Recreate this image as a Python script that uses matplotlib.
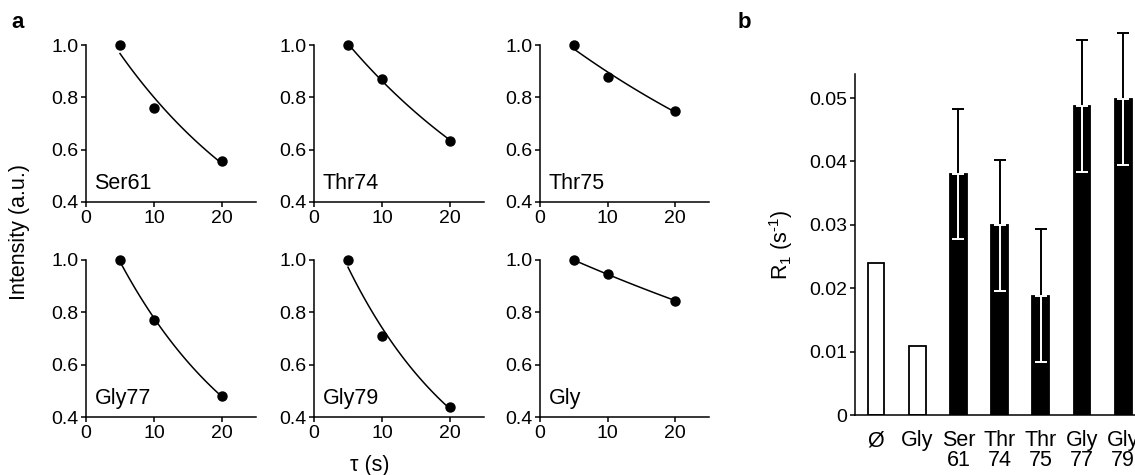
import matplotlib.pyplot as plt
import numpy as np

plt.rcParams['font.family'] = ['Liberation Sans', 'DejaVu Sans']
plt.rcParams['mathtext.fontset'] = 'custom'
plt.rcParams['mathtext.rm'] = 'Liberation Sans'

# Panel a: relaxation decays
tau = np.array([5, 10, 20])
residues = ['Ser61', 'Thr74', 'Thr75', 'Gly77', 'Gly79', 'Gly']
intensity = {
    'Ser61': [1.0, 0.761, 0.556],
    'Thr74': [1.0, 0.869, 0.635],
    'Thr75': [1.0, 0.877, 0.749],
    'Gly77': [1.0, 0.771, 0.479],
    'Gly79': [1.0, 0.711, 0.437],
    'Gly': [1.0, 0.945, 0.845],
}

# Panel b: R1 rates
bar_labels = ['Ø', 'Gly', 'Ser\n61', 'Thr\n74', 'Thr\n75', 'Gly\n77', 'Gly\n79']
r1 = [0.0240, 0.0109, 0.0380, 0.0299, 0.0188, 0.0488, 0.0499]
r1_err = [0, 0, 0.0103, 0.0104, 0.0105, 0.0104, 0.0104]
filled = [False, False, True, True, True, True, True]

W, H = 1135, 475
fig = plt.figure(figsize=(W / 100, H / 100), dpi=100)

def px_axes(x0, x1, ytop, ybot):
    return fig.add_axes([x0 / W, 1 - ybot / H, (x1 - x0) / W, (ybot - ytop) / H])

lw = 1.1
tick_fs = 14
label_fs = 15.5
cols = [(86, 256), (314, 484), (540, 709)]
rows = [(45, 202), (260, 417)]

for i, name in enumerate(residues):
    x0, x1 = cols[i % 3]
    yt, yb = rows[i // 3]
    ax = px_axes(x0, x1, yt, yb)
    y = np.array(intensity[name])
    # mono-exponential fit (log-linear least squares)
    k, b = np.polyfit(tau, np.log(y), 1)
    tt = np.linspace(tau[0], tau[-1], 100)
    ax.plot(tt, np.exp(b + k * tt), color='black', lw=1.1)
    ax.plot(tau, y, 'o', color='black', ms=6.5, clip_on=False, zorder=3)
    ax.set_xlim(0, 25)
    ax.set_ylim(0.4, 1.0)
    ax.set_xticks([0, 10, 20])
    ax.set_yticks([0.4, 0.6, 0.8, 1.0])
    ax.set_yticklabels(['0.4', '0.6', '0.8', '1.0'])
    for s in ['top', 'right']:
        ax.spines[s].set_visible(False)
    for s in ['left', 'bottom']:
        ax.spines[s].set_linewidth(lw)
    ax.tick_params(direction='out', length=3.5, width=lw, labelsize=tick_fs, pad=2)
    ax.text(0.05, 0.05, name, transform=ax.transAxes, fontsize=label_fs,
            ha='left', va='bottom')

fig.text(20 / W, 1 - 232 / H, 'Intensity (a.u.)', rotation=90, fontsize=label_fs,
         ha='center', va='center')
fig.text(370 / W, 1 - 465 / H, 'τ (s)', fontsize=label_fs, ha='center', va='center')
fig.text(11 / W, 1 - 22 / H, 'a', fontsize=16, fontweight='bold', ha='left', va='center')
fig.text(738 / W, 1 - 22 / H, 'b', fontsize=16, fontweight='bold', ha='left', va='center')

# Panel b
spacing = 41.2
x_left = -21 / spacing
x_right = x_left + (1200 - 855) / spacing
axb = px_axes(855, 1200, 74, 415)
pos = np.arange(len(r1))
for p, v, f in zip(pos, r1, filled):
    axb.bar(p, v, width=0.41, color='black' if f else 'white', edgecolor='black',
            linewidth=1.3, zorder=2)
for p, v, e, f in zip(pos, r1, r1_err, filled):
    if not f:
        continue
    up = axb.errorbar(p, v, yerr=[[0], [e]], color='black', capsize=4.5, capthick=1.4,
                      elinewidth=1.4, zorder=3)
    dn = axb.errorbar(p, v, yerr=[[e], [0]], color='white', capsize=4.5, capthick=1.4,
                      elinewidth=1.4, zorder=3)
    for art in list(up.lines[1]) + list(up.lines[2]):
        art.set_clip_on(False)
axb.set_xlim(x_left, x_right)
axb.set_ylim(0, 0.0538)
axb.set_yticks([0, 0.01, 0.02, 0.03, 0.04, 0.05])
axb.set_yticklabels(['0', '0.01', '0.02', '0.03', '0.04', '0.05'])
axb.set_xticks(pos)
axb.set_xticklabels(bar_labels, linespacing=0.95)
for s in ['top', 'right']:
    axb.spines[s].set_visible(False)
for s in ['left', 'bottom']:
    axb.spines[s].set_linewidth(lw)
axb.tick_params(axis='y', direction='out', length=3.5, width=lw, labelsize=tick_fs, pad=2)
axb.tick_params(axis='x', length=0, labelsize=label_fs, pad=11)
axb.set_ylabel(r'R$_\mathregular{1}$ (s$^{\text{-}\mathregular{1}}$)', fontsize=label_fs,
               labelpad=10)

fig.savefig('out.png', dpi=100)
